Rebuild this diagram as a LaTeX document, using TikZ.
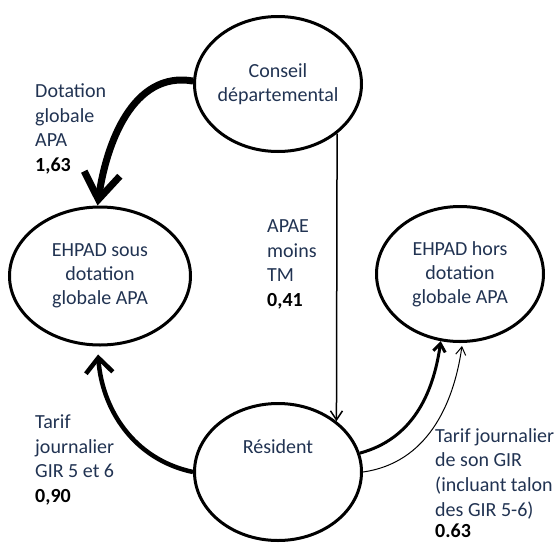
\documentclass[tikz,border=0pt]{standalone}
\usepackage{fontspec}
\setmainfont{Carlito}
\usetikzlibrary{arrows.meta,shapes.geometric}
\definecolor{txtc}{HTML}{213352}
\tikzset{
  ell/.style={ellipse, draw=black, line width=3pt, inner sep=-4pt, align=center, text=txtc, font=\fontsize{20pt}{24pt}\selectfont},
  lbl/.style={anchor=north west, inner sep=0pt, align=left, text=txtc, font=\fontsize{20pt}{24.7pt}\selectfont},
  restxt/.style={inner sep=0pt, text=txtc, font=\fontsize{20pt}{24pt}\selectfont},
  heavyarrow/.style={line width=7pt, -{Straight Barb[length=26pt, width=36pt]}},
  medarrow/.style={line width=4.5pt, -{Straight Barb[length=15pt, width=27pt]}},
  vlinearrow/.style={line width=1.5pt, -{Straight Barb[length=9pt, width=12pt]}},
  rthick/.style={line width=3pt, -{Straight Barb[length=8pt, width=12pt]}},
  rthin/.style={line width=1pt, -{Straight Barb[length=8pt, width=10pt]}}
}
\begin{document}
\begin{tikzpicture}[x=1pt, y=-1pt]
\useasboundingbox (0,0) rectangle (560,544);
\node[ell, minimum width=167pt, minimum height=135pt] (conseil) at (278,84) {Conseil\\départemental};
\node[ell, minimum width=181pt, minimum height=138pt] (sous) at (100,276) {EHPAD sous\\dotation\\globale APA};
\node[ell, minimum width=167pt, minimum height=135pt] (hors) at (460,274) {EHPAD hors\\dotation\\globale APA};
\node[ell, minimum width=167pt, minimum height=137pt] (res) at (278,472) {};
\node[restxt] (restext) at (278,447) {Résident};

\node[lbl] (ldot) at (35,83.5) {Dotation\\globale\\APA\\\textbf{\color{black}1,63}};
\node[lbl] (lapae) at (267,219.5) {APAE\\moins\\TM\\\textbf{\color{black}0,41}};
\node[lbl] (ltarif) at (35,414.5) {Tarif\\journalier\\GIR 5 et 6\\\textbf{\color{black}0,90}};
\node[lbl] (lgir) at (435,428) {Tarif journalier\\de son GIR\\(incluant talon\\des GIR 5-6)\\[-3pt]\textbf{\color{black}0.63}};

\draw[heavyarrow] (conseil.178) to[out=170, in=82] (sous.92);
\draw[medarrow, shorten >=8pt] (res.180) to[out=168, in=-86] (sous.-92);
\draw[vlinearrow] (conseil.-40) -- (res.41.5);
\draw[rthick] (res.13) to[out=15, in=-98] (hors.-106);
\draw[rthin, shorten >=3pt] (res.0) to[out=8, in=-98] (hors.-88);
\end{tikzpicture}
\end{document}
